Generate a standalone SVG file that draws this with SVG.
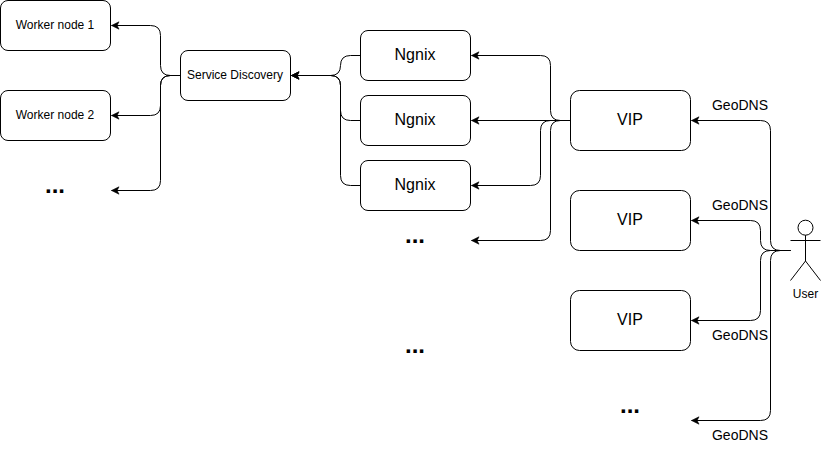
<svg xmlns="http://www.w3.org/2000/svg" width="821" height="451" viewBox="0 0 821 451">
<style>
text{font-family:"Liberation Sans",Arial,sans-serif;fill:#000;text-anchor:middle;dominant-baseline:central}
.box{fill:#fff;stroke:#000;stroke-width:1}
.c{fill:none;stroke:#000;stroke-width:1;marker-end:url(#a)}
.s{font-size:12px}.m{font-size:16px}.g{font-size:14px}.d{font-size:24px;font-weight:bold}
.act{fill:none;stroke:#000;stroke-width:1}
</style>
<defs><marker id="a" markerUnits="userSpaceOnUse" markerWidth="9" markerHeight="9" refX="8" refY="4.5" orient="auto"><path d="M8 4.5L0.5 8.2L2.4 4.5L0.5 0.8Z" fill="#000" stroke="#000" stroke-width="0.6"/></marker></defs>
<rect width="821" height="451" fill="#fff"/>
<g id="connectors">
<path class="c" d="M180.5 75.5H170.5Q160.5 75.5 160.5 65.5V35.5Q160.5 25.5 150.5 25.5H111.5"/>
<path class="c" d="M180.5 75.5H170.5Q160.5 75.5 160.5 85.5V105.5Q160.5 115.5 150.5 115.5H111.5"/>
<path class="c" d="M180.5 75.5H170.5Q160.5 75.5 160.5 85.5V180.5Q160.5 190.5 150.5 190.5H111.5"/>
<path class="c" d="M360.5 55.5H350.5Q340.5 55.5 340.5 65.5Q340.5 75.5 330.5 75.5H291.5"/>
<path class="c" d="M360.5 120.5H350.5Q340.5 120.5 340.5 110.5V85.5Q340.5 75.5 330.5 75.5H291.5"/>
<path class="c" d="M360.5 185.5H350.5Q340.5 185.5 340.5 175.5V85.5Q340.5 75.5 330.5 75.5H291.5"/>
<path class="c" d="M570.5 120.5H560.5Q550.5 120.5 550.5 110.5V65.5Q550.5 55.5 540.5 55.5H471.5"/>
<path class="c" d="M570.5 120.5H471.5"/>
<path class="c" d="M570.5 120.5H550.5Q540.5 120.5 540.5 130.5V175.5Q540.5 185.5 530.5 185.5H471.5"/>
<path class="c" d="M570.5 120.5H560.5Q550.5 120.5 550.5 130.5V230.5Q550.5 240.5 540.5 240.5H471.5"/>
<path class="c" d="M790.5 250.5H780.5Q770.5 250.5 770.5 240.5V130.5Q770.5 120.5 760.5 120.5H691.5"/>
<path class="c" d="M790.5 250.5H770.5Q760.5 250.5 760.5 240.5V230.5Q760.5 220.5 750.5 220.5H691.5"/>
<path class="c" d="M790.5 250.5H770.5Q760.5 250.5 760.5 260.5V310.5Q760.5 320.5 750.5 320.5H691.5"/>
<path class="c" d="M790.5 250.5H780.5Q770.5 250.5 770.5 260.5V410.5Q770.5 420.5 760.5 420.5H691.5"/>
</g>
<g id="worker1"><rect class="box" x="0.5" y="0.5" width="110" height="50" rx="7.5"/><text class="s" x="55" y="25">Worker node 1</text></g>
<g id="worker2"><rect class="box" x="0.5" y="90.5" width="110" height="50" rx="7.5"/><text class="s" x="55" y="115">Worker node 2</text></g>
<g id="workers-more"><text class="d" x="55" y="184">...</text></g>
<g id="service-discovery"><rect class="box" x="180.5" y="50.5" width="110" height="50" rx="7.5"/><text class="s" x="235" y="75">Service Discovery</text></g>
<g id="ngnix1"><rect class="box" x="360.5" y="30.5" width="110" height="50" rx="7.5"/><text class="m" x="415" y="54.5">Ngnix</text></g>
<g id="ngnix2"><rect class="box" x="360.5" y="95.5" width="110" height="50" rx="7.5"/><text class="m" x="415" y="119.5">Ngnix</text></g>
<g id="ngnix3"><rect class="box" x="360.5" y="160.5" width="110" height="50" rx="7.5"/><text class="m" x="415" y="184.5">Ngnix</text></g>
<g id="ngnix-more"><text class="d" x="415" y="234">...</text></g>
<g id="vip1"><rect class="box" x="570.5" y="90.5" width="120" height="60" rx="9"/><text class="m" x="630" y="119.5">VIP</text></g>
<g id="vip2"><rect class="box" x="570.5" y="190.5" width="120" height="60" rx="9"/><text class="m" x="630" y="219.5">VIP</text></g>
<g id="vip3"><rect class="box" x="570.5" y="290.5" width="120" height="60" rx="9"/><text class="m" x="630" y="319.5">VIP</text></g>
<g id="vip-more"><text class="d" x="630" y="404">...</text></g>
<g id="middle-more"><text class="d" x="415" y="344">...</text></g>
<g id="user"><circle class="act" cx="805.5" cy="227.7" r="7.5"/><path class="act" d="M805.5 235.2V261M790.5 240.5H820.5M790.5 280.5L805.5 261L820.5 280.5"/><text class="s" x="805.5" y="293.5">User</text></g>
<g id="labels">
<text class="g" x="740" y="105">GeoDNS</text>
<text class="g" x="740" y="205">GeoDNS</text>
<text class="g" x="740" y="335">GeoDNS</text>
<text class="g" x="740" y="435">GeoDNS</text>
</g>
</svg>
